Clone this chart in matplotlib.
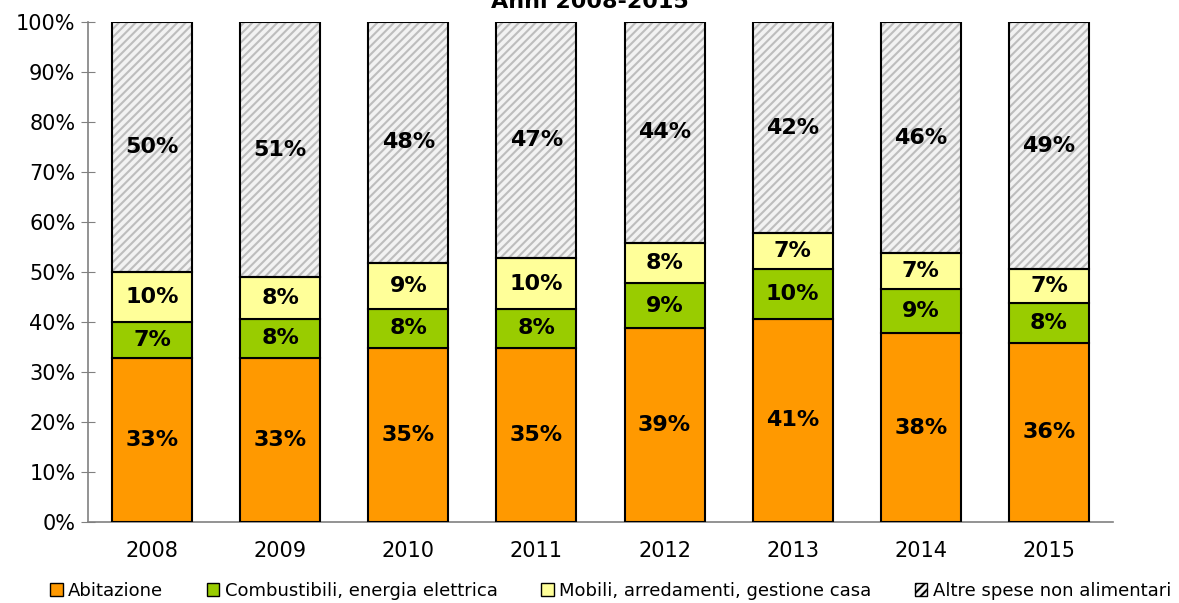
import matplotlib.pyplot as plt
import numpy as np
from matplotlib.patches import Patch

anni = ['2008', '2009', '2010', '2011', '2012', '2013', '2014', '2015']
abitazione = [32.8, 32.8, 34.8, 34.8, 38.8, 40.6, 37.8, 35.8]
combustibili = [7.2, 7.8, 7.8, 7.8, 9.0, 10.0, 8.8, 8.0]
mobili = [10.0, 8.4, 9.2, 10.2, 8.0, 7.2, 7.2, 6.8]
altre = [50.0, 51.0, 48.2, 47.2, 44.2, 42.2, 46.2, 49.4]

nomi = ['Abitazione', 'Combustibili, energia elettrica',
        'Mobili, arredamenti, gestione casa', 'Altre spese non alimentari']
colori = ['#ff9900', '#99cc00', '#ffff99', 'white']

plt.rcParams['hatch.linewidth'] = 1.5

fig = plt.figure(figsize=(11.79, 6.03), dpi=100)
ax = fig.add_axes([88/1179, 1-522/603, 1025/1179, 500/603])

x = np.arange(len(anni))
w = 0.625
serie = [abitazione, combustibili, mobili, altre]
bottom = np.zeros(len(anni))
for i, vals in enumerate(serie):
    vals = np.array(vals)
    if i == 3:
        ax.bar(x, vals, w, bottom=bottom, color='#f2f2f2', edgecolor='#bdbdbd',
               hatch='////', linewidth=0, zorder=2)
        ax.bar(x, vals, w, bottom=bottom, color='none', edgecolor='black',
               linewidth=1.5, zorder=3)
    else:
        ax.bar(x, vals, w, bottom=bottom, color=colori[i], edgecolor='black',
               linewidth=1.5, zorder=3)
    for xi, b, v in zip(x, bottom, vals):
        ax.text(xi, b + v/2, '%d%%' % round(v), ha='center', va='center',
                fontsize=16, fontweight='bold', zorder=4)
    bottom += vals

ax.set_xlim(-0.5, len(anni) - 0.5)
ax.set_ylim(0, 100)
ax.set_yticks(np.arange(0, 101, 10))
ax.set_yticklabels(['%d%%' % v for v in range(0, 101, 10)])
ax.set_xticks(x)
ax.set_xticklabels(anni)
ax.tick_params(axis='y', direction='inout', length=10, color='#808080',
               labelsize=15, pad=4)
ax.tick_params(axis='x', length=0, labelsize=15, pad=14)
for s in ['top', 'right']:
    ax.spines[s].set_visible(False)
for s in ['left', 'bottom']:
    ax.spines[s].set_color('#808080')
    ax.spines[s].set_linewidth(1.2)

# title is partly cut at the top, as in the source image
fig.text(0.5, 1 - 8/603, 'Anni 2008-2015', ha='center', va='baseline',
         fontsize=16, fontweight='bold')

handles = [Patch(facecolor=colori[0], edgecolor='black'),
           Patch(facecolor=colori[1], edgecolor='black'),
           Patch(facecolor=colori[2], edgecolor='black'),
           Patch(facecolor='#f2f2f2', edgecolor='black', hatch='////')]
fig.legend(handles, nomi, loc='center', bbox_to_anchor=(0.518, 1 - 591/603),
           ncol=4, frameon=False, fontsize=13, handlelength=0.7,
           handleheight=0.7, handletextpad=0.3, columnspacing=2.4)

fig.savefig('out.png', dpi=100)
